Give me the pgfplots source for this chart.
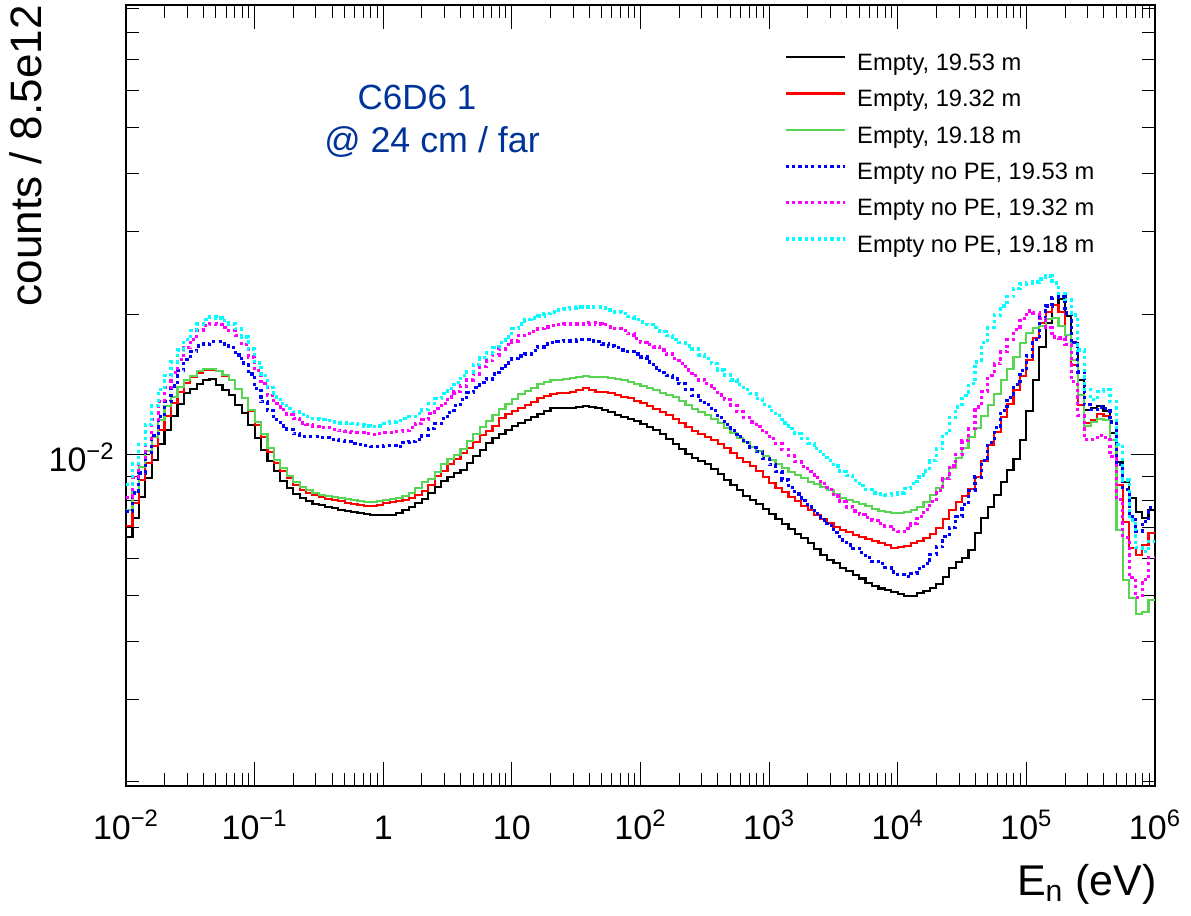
\documentclass[border=0pt]{standalone}
\usepackage{fontspec}
\setmainfont{Liberation Sans}
\usepackage{pgfplots}
\usepackage{pgfplotstable}
\pgfplotsset{compat=1.18}
\definecolor{rgreen}{RGB}{89,212,84}
\definecolor{rblue}{RGB}{0,0,255}
\definecolor{rred}{RGB}{255,0,0}
\definecolor{rmagenta}{RGB}{255,0,255}
\definecolor{rcyan}{RGB}{0,255,255}
\definecolor{tblue}{RGB}{0,51,153}
\pgfplotstableread{
lx k r g b m c
-2.00 0.668e-2 0.706e-2 0.763e-2 0.756e-2 0.810e-2 0.863e-2
-1.95 0.734e-2 0.790e-2 0.834e-2 0.829e-2 0.893e-2 0.957e-2
-1.90 0.813e-2 0.884e-2 0.943e-2 0.915e-2 0.986e-2 1.051e-2
-1.85 0.893e-2 0.962e-2 1.020e-2 1.010e-2 1.082e-2 1.159e-2
-1.80 0.976e-2 1.046e-2 1.093e-2 1.099e-2 1.188e-2 1.273e-2
-1.75 1.056e-2 1.131e-2 1.188e-2 1.206e-2 1.298e-2 1.377e-2
-1.70 1.131e-2 1.212e-2 1.273e-2 1.298e-2 1.391e-2 1.475e-2
-1.65 1.212e-2 1.292e-2 1.330e-2 1.404e-2 1.497e-2 1.580e-2
-1.60 1.285e-2 1.364e-2 1.398e-2 1.512e-2 1.596e-2 1.676e-2
-1.55 1.357e-2 1.425e-2 1.446e-2 1.596e-2 1.693e-2 1.761e-2
-1.50 1.384e-2 1.468e-2 1.475e-2 1.660e-2 1.761e-2 1.841e-2
-1.45 1.418e-2 1.497e-2 1.512e-2 1.709e-2 1.841e-2 1.905e-2
-1.40 1.446e-2 1.519e-2 1.527e-2 1.726e-2 1.887e-2 1.943e-2
-1.35 1.453e-2 1.519e-2 1.527e-2 1.744e-2 1.905e-2 1.972e-2
-1.30 1.411e-2 1.512e-2 1.512e-2 1.744e-2 1.896e-2 1.962e-2
-1.25 1.377e-2 1.475e-2 1.482e-2 1.726e-2 1.868e-2 1.934e-2
-1.20 1.343e-2 1.446e-2 1.446e-2 1.693e-2 1.841e-2 1.905e-2
-1.15 1.279e-2 1.384e-2 1.384e-2 1.635e-2 1.796e-2 1.859e-2
-1.10 1.230e-2 1.324e-2 1.324e-2 1.572e-2 1.718e-2 1.787e-2
-1.05 1.159e-2 1.242e-2 1.248e-2 1.489e-2 1.619e-2 1.684e-2
-1.00 1.088e-2 1.159e-2 1.176e-2 1.384e-2 1.512e-2 1.572e-2
-0.95 1.025e-2 1.093e-2 1.109e-2 1.298e-2 1.418e-2 1.475e-2
-0.90 0.971e-2 1.015e-2 1.035e-2 1.242e-2 1.337e-2 1.391e-2
-0.85 0.924e-2 0.962e-2 0.976e-2 1.188e-2 1.285e-2 1.330e-2
-0.80 0.880e-2 0.924e-2 0.938e-2 1.153e-2 1.248e-2 1.285e-2
-0.75 0.850e-2 0.893e-2 0.902e-2 1.131e-2 1.218e-2 1.254e-2
-0.70 0.825e-2 0.863e-2 0.876e-2 1.109e-2 1.194e-2 1.236e-2
-0.65 0.810e-2 0.842e-2 0.855e-2 1.093e-2 1.170e-2 1.218e-2
-0.60 0.798e-2 0.829e-2 0.842e-2 1.093e-2 1.159e-2 1.206e-2
-0.55 0.786e-2 0.821e-2 0.829e-2 1.093e-2 1.148e-2 1.194e-2
-0.50 0.782e-2 0.813e-2 0.821e-2 1.088e-2 1.142e-2 1.188e-2
-0.45 0.774e-2 0.806e-2 0.817e-2 1.088e-2 1.142e-2 1.182e-2
-0.40 0.771e-2 0.802e-2 0.813e-2 1.077e-2 1.131e-2 1.176e-2
-0.35 0.763e-2 0.798e-2 0.810e-2 1.072e-2 1.126e-2 1.170e-2
-0.30 0.759e-2 0.790e-2 0.806e-2 1.066e-2 1.120e-2 1.170e-2
-0.25 0.756e-2 0.786e-2 0.802e-2 1.056e-2 1.115e-2 1.165e-2
-0.20 0.752e-2 0.782e-2 0.798e-2 1.051e-2 1.115e-2 1.159e-2
-0.15 0.749e-2 0.778e-2 0.794e-2 1.046e-2 1.109e-2 1.153e-2
-0.10 0.745e-2 0.778e-2 0.794e-2 1.040e-2 1.104e-2 1.148e-2
-0.05 0.745e-2 0.782e-2 0.798e-2 1.040e-2 1.109e-2 1.153e-2
0.00 0.745e-2 0.790e-2 0.802e-2 1.046e-2 1.115e-2 1.165e-2
0.05 0.745e-2 0.794e-2 0.806e-2 1.046e-2 1.115e-2 1.176e-2
0.10 0.752e-2 0.798e-2 0.810e-2 1.040e-2 1.120e-2 1.182e-2
0.15 0.763e-2 0.802e-2 0.817e-2 1.061e-2 1.126e-2 1.194e-2
0.20 0.774e-2 0.810e-2 0.829e-2 1.066e-2 1.142e-2 1.206e-2
0.25 0.790e-2 0.821e-2 0.850e-2 1.077e-2 1.165e-2 1.224e-2
0.30 0.806e-2 0.838e-2 0.876e-2 1.099e-2 1.188e-2 1.248e-2
0.35 0.829e-2 0.863e-2 0.889e-2 1.137e-2 1.224e-2 1.285e-2
0.40 0.855e-2 0.902e-2 0.920e-2 1.165e-2 1.254e-2 1.317e-2
0.45 0.880e-2 0.924e-2 0.957e-2 1.194e-2 1.285e-2 1.350e-2
0.50 0.897e-2 0.957e-2 0.981e-2 1.230e-2 1.330e-2 1.384e-2
0.55 0.915e-2 0.981e-2 1.000e-2 1.273e-2 1.364e-2 1.425e-2
0.60 0.929e-2 1.010e-2 1.030e-2 1.311e-2 1.404e-2 1.475e-2
0.65 0.962e-2 1.035e-2 1.072e-2 1.357e-2 1.446e-2 1.504e-2
0.70 0.995e-2 1.066e-2 1.109e-2 1.391e-2 1.489e-2 1.557e-2
0.75 1.025e-2 1.104e-2 1.148e-2 1.425e-2 1.542e-2 1.612e-2
0.80 1.061e-2 1.126e-2 1.182e-2 1.453e-2 1.588e-2 1.651e-2
0.85 1.088e-2 1.153e-2 1.218e-2 1.489e-2 1.635e-2 1.693e-2
0.90 1.109e-2 1.200e-2 1.254e-2 1.527e-2 1.684e-2 1.735e-2
0.95 1.131e-2 1.224e-2 1.285e-2 1.572e-2 1.718e-2 1.787e-2
1.00 1.153e-2 1.242e-2 1.317e-2 1.604e-2 1.752e-2 1.859e-2
1.05 1.170e-2 1.260e-2 1.350e-2 1.627e-2 1.796e-2 1.905e-2
1.10 1.188e-2 1.279e-2 1.370e-2 1.643e-2 1.814e-2 1.943e-2
1.15 1.206e-2 1.298e-2 1.391e-2 1.668e-2 1.832e-2 1.962e-2
1.20 1.224e-2 1.324e-2 1.418e-2 1.701e-2 1.859e-2 1.981e-2
1.25 1.242e-2 1.337e-2 1.432e-2 1.726e-2 1.877e-2 2.001e-2
1.30 1.260e-2 1.350e-2 1.446e-2 1.735e-2 1.887e-2 2.020e-2
1.35 1.260e-2 1.357e-2 1.446e-2 1.744e-2 1.896e-2 2.040e-2
1.40 1.260e-2 1.357e-2 1.453e-2 1.752e-2 1.905e-2 2.050e-2
1.45 1.260e-2 1.364e-2 1.460e-2 1.752e-2 1.905e-2 2.060e-2
1.50 1.266e-2 1.377e-2 1.468e-2 1.761e-2 1.905e-2 2.071e-2
1.55 1.273e-2 1.391e-2 1.475e-2 1.761e-2 1.905e-2 2.071e-2
1.60 1.266e-2 1.377e-2 1.468e-2 1.752e-2 1.915e-2 2.071e-2
1.65 1.260e-2 1.364e-2 1.468e-2 1.744e-2 1.905e-2 2.071e-2
1.70 1.248e-2 1.364e-2 1.468e-2 1.726e-2 1.896e-2 2.060e-2
1.75 1.236e-2 1.357e-2 1.460e-2 1.709e-2 1.877e-2 2.040e-2
1.80 1.218e-2 1.343e-2 1.453e-2 1.693e-2 1.859e-2 2.020e-2
1.85 1.206e-2 1.330e-2 1.446e-2 1.676e-2 1.841e-2 2.001e-2
1.90 1.194e-2 1.324e-2 1.432e-2 1.660e-2 1.814e-2 1.972e-2
1.95 1.182e-2 1.305e-2 1.418e-2 1.643e-2 1.770e-2 1.943e-2
2.00 1.165e-2 1.292e-2 1.404e-2 1.619e-2 1.735e-2 1.924e-2
2.05 1.148e-2 1.273e-2 1.391e-2 1.580e-2 1.718e-2 1.896e-2
2.10 1.131e-2 1.254e-2 1.377e-2 1.534e-2 1.701e-2 1.868e-2
2.15 1.109e-2 1.236e-2 1.357e-2 1.497e-2 1.676e-2 1.832e-2
2.20 1.082e-2 1.218e-2 1.343e-2 1.475e-2 1.643e-2 1.796e-2
2.25 1.056e-2 1.194e-2 1.330e-2 1.453e-2 1.604e-2 1.761e-2
2.30 1.030e-2 1.170e-2 1.305e-2 1.418e-2 1.565e-2 1.735e-2
2.35 1.005e-2 1.148e-2 1.279e-2 1.377e-2 1.519e-2 1.709e-2
2.40 0.986e-2 1.126e-2 1.254e-2 1.337e-2 1.475e-2 1.684e-2
2.45 0.971e-2 1.109e-2 1.236e-2 1.305e-2 1.446e-2 1.635e-2
2.50 0.957e-2 1.093e-2 1.218e-2 1.279e-2 1.418e-2 1.604e-2
2.55 0.934e-2 1.077e-2 1.194e-2 1.242e-2 1.384e-2 1.565e-2
2.60 0.911e-2 1.056e-2 1.170e-2 1.200e-2 1.343e-2 1.519e-2
2.65 0.884e-2 1.035e-2 1.142e-2 1.159e-2 1.311e-2 1.482e-2
2.70 0.863e-2 1.010e-2 1.115e-2 1.126e-2 1.273e-2 1.446e-2
2.75 0.842e-2 0.986e-2 1.088e-2 1.093e-2 1.236e-2 1.411e-2
2.80 0.817e-2 0.966e-2 1.066e-2 1.061e-2 1.200e-2 1.377e-2
2.85 0.802e-2 0.947e-2 1.040e-2 1.035e-2 1.176e-2 1.350e-2
2.90 0.786e-2 0.924e-2 1.020e-2 1.015e-2 1.148e-2 1.317e-2
2.95 0.767e-2 0.897e-2 0.995e-2 0.981e-2 1.115e-2 1.279e-2
3.00 0.749e-2 0.871e-2 0.976e-2 0.952e-2 1.082e-2 1.242e-2
3.05 0.730e-2 0.850e-2 0.957e-2 0.920e-2 1.056e-2 1.212e-2
3.10 0.712e-2 0.834e-2 0.938e-2 0.884e-2 1.025e-2 1.170e-2
3.15 0.695e-2 0.813e-2 0.920e-2 0.850e-2 0.995e-2 1.137e-2
3.20 0.678e-2 0.798e-2 0.906e-2 0.825e-2 0.966e-2 1.109e-2
3.25 0.665e-2 0.778e-2 0.893e-2 0.798e-2 0.943e-2 1.082e-2
3.30 0.648e-2 0.763e-2 0.876e-2 0.774e-2 0.920e-2 1.056e-2
3.35 0.630e-2 0.745e-2 0.867e-2 0.749e-2 0.893e-2 1.030e-2
3.40 0.612e-2 0.730e-2 0.855e-2 0.726e-2 0.867e-2 1.000e-2
3.45 0.597e-2 0.716e-2 0.842e-2 0.706e-2 0.842e-2 0.971e-2
3.50 0.588e-2 0.702e-2 0.825e-2 0.682e-2 0.817e-2 0.947e-2
3.55 0.574e-2 0.692e-2 0.810e-2 0.658e-2 0.794e-2 0.920e-2
3.60 0.565e-2 0.685e-2 0.802e-2 0.642e-2 0.774e-2 0.902e-2
3.65 0.554e-2 0.675e-2 0.794e-2 0.630e-2 0.759e-2 0.880e-2
3.70 0.544e-2 0.668e-2 0.786e-2 0.618e-2 0.745e-2 0.859e-2
3.75 0.533e-2 0.661e-2 0.778e-2 0.603e-2 0.734e-2 0.842e-2
3.80 0.525e-2 0.655e-2 0.767e-2 0.591e-2 0.723e-2 0.829e-2
3.85 0.518e-2 0.648e-2 0.759e-2 0.585e-2 0.712e-2 0.825e-2
3.90 0.515e-2 0.642e-2 0.756e-2 0.574e-2 0.702e-2 0.821e-2
3.95 0.510e-2 0.633e-2 0.752e-2 0.562e-2 0.692e-2 0.825e-2
4.00 0.505e-2 0.636e-2 0.752e-2 0.554e-2 0.685e-2 0.829e-2
4.05 0.500e-2 0.639e-2 0.756e-2 0.549e-2 0.695e-2 0.846e-2
4.10 0.500e-2 0.648e-2 0.763e-2 0.557e-2 0.712e-2 0.867e-2
4.15 0.507e-2 0.655e-2 0.774e-2 0.571e-2 0.737e-2 0.897e-2
4.20 0.512e-2 0.665e-2 0.794e-2 0.585e-2 0.763e-2 0.924e-2
4.25 0.520e-2 0.678e-2 0.821e-2 0.612e-2 0.794e-2 0.971e-2
4.30 0.530e-2 0.699e-2 0.850e-2 0.636e-2 0.838e-2 1.030e-2
4.35 0.549e-2 0.730e-2 0.889e-2 0.668e-2 0.889e-2 1.109e-2
4.40 0.574e-2 0.763e-2 0.938e-2 0.699e-2 0.947e-2 1.200e-2
4.45 0.591e-2 0.794e-2 0.986e-2 0.737e-2 1.000e-2 1.266e-2
4.50 0.603e-2 0.817e-2 1.035e-2 0.782e-2 1.072e-2 1.337e-2
4.55 0.627e-2 0.846e-2 1.093e-2 0.838e-2 1.137e-2 1.418e-2
4.60 0.682e-2 0.897e-2 1.142e-2 0.897e-2 1.266e-2 1.580e-2
4.65 0.734e-2 0.971e-2 1.212e-2 0.971e-2 1.364e-2 1.735e-2
4.70 0.774e-2 1.051e-2 1.279e-2 1.061e-2 1.475e-2 1.868e-2
4.75 0.821e-2 1.120e-2 1.350e-2 1.142e-2 1.565e-2 1.991e-2
4.80 0.876e-2 1.206e-2 1.446e-2 1.242e-2 1.660e-2 2.081e-2
4.85 0.929e-2 1.285e-2 1.527e-2 1.324e-2 1.761e-2 2.176e-2
4.90 0.981e-2 1.377e-2 1.619e-2 1.411e-2 1.850e-2 2.263e-2
4.95 1.077e-2 1.475e-2 1.735e-2 1.512e-2 1.953e-2 2.319e-2
5.00 1.242e-2 1.596e-2 1.823e-2 1.627e-2 2.030e-2 2.330e-2
5.05 1.446e-2 1.778e-2 1.868e-2 1.761e-2 2.010e-2 2.342e-2
5.10 1.701e-2 1.915e-2 1.887e-2 1.962e-2 1.953e-2 2.377e-2
5.15 1.915e-2 2.020e-2 1.953e-2 2.081e-2 1.868e-2 2.412e-2
5.20 2.091e-2 2.091e-2 1.962e-2 2.165e-2 1.787e-2 2.330e-2
5.25 2.154e-2 2.020e-2 1.887e-2 2.176e-2 1.778e-2 2.208e-2
5.30 1.981e-2 1.805e-2 1.805e-2 2.010e-2 1.718e-2 2.144e-2
5.35 1.735e-2 1.557e-2 1.596e-2 1.735e-2 1.432e-2 1.991e-2
5.40 1.446e-2 1.279e-2 1.343e-2 1.504e-2 1.212e-2 1.676e-2
5.45 1.248e-2 1.170e-2 1.153e-2 1.279e-2 1.077e-2 1.377e-2
5.50 1.260e-2 1.188e-2 1.176e-2 1.248e-2 1.077e-2 1.311e-2
5.55 1.273e-2 1.224e-2 1.194e-2 1.266e-2 1.099e-2 1.364e-2
5.60 1.242e-2 1.212e-2 1.188e-2 1.254e-2 1.088e-2 1.377e-2
5.65 1.115e-2 1.077e-2 1.077e-2 1.176e-2 0.990e-2 1.298e-2
5.70 0.966e-2 0.863e-2 0.692e-2 0.952e-2 0.802e-2 1.051e-2
5.75 0.876e-2 0.719e-2 0.541e-2 0.842e-2 0.665e-2 0.884e-2
5.80 0.810e-2 0.633e-2 0.495e-2 0.737e-2 0.546e-2 0.726e-2
5.85 0.756e-2 0.612e-2 0.457e-2 0.685e-2 0.495e-2 0.633e-2
5.90 0.734e-2 0.642e-2 0.462e-2 0.719e-2 0.541e-2 0.621e-2
5.95 0.763e-2 0.682e-2 0.490e-2 0.771e-2 0.603e-2 0.652e-2
6.00 0.763e-2 0.682e-2 0.490e-2 0.771e-2 0.603e-2 0.652e-2
}\spectra

\newcommand{\tl}[1]{10\textsuperscript{#1}}

\begin{document}
\begin{tikzpicture}
\path[use as bounding box] (-63pt,-65pt) rectangle (532.5pt,393pt);
\begin{axis}[
  at={(0pt,0pt)}, anchor=south west,
  scale only axis, width=514.5pt, height=390.5pt,
  xmode=log, ymode=log,
  xmin=1e-2, xmax=1e6, ymin=1.96e-3, ymax=0.0915,
  axis line style={line width=0.6pt},
  tick align=inside,
  major tick length=12pt, minor tick length=6.5pt,
  every tick/.style={black, line width=0.5pt},
  xtick={1e-2,1e-1,1,10,100,1e3,1e4,1e5,1e6},
  xticklabels={\tl{−2},\tl{−1},1,10,\tl{2},\tl{3},\tl{4},\tl{5},\tl{6}},
  minor xtick={2e-2,3e-2,4e-2,5e-2,6e-2,7e-2,8e-2,9e-2,2e-1,3e-1,4e-1,5e-1,6e-1,7e-1,8e-1,9e-1,2,3,4,5,6,7,8,9,20,30,40,50,60,70,80,90,200,300,400,500,600,700,800,900,2e3,3e3,4e3,5e3,6e3,7e3,8e3,9e3,2e4,3e4,4e4,5e4,6e4,7e4,8e4,9e4,2e5,3e5,4e5,5e5,6e5,7e5,8e5,9e5},
  ytick={1e-2},
  yticklabels={\tl{−2}},
  minor ytick={2e-3,3e-3,4e-3,5e-3,6e-3,7e-3,8e-3,9e-3,2e-2,3e-2,4e-2,5e-2,6e-2,7e-2,8e-2,9e-2},
  xticklabel style={anchor=base, inner sep=0pt, yshift=-26.75pt, font=\fontsize{17}{20}\selectfont},
  yticklabel style={anchor=base east, inner sep=0pt, xshift=-5.5pt, yshift=-8.5pt, font=\fontsize{17}{20}\selectfont},
  xlabel={E\textsubscript{n} (eV)},
  xlabel style={at={(axis description cs:1.002,-0.140)}, anchor=base east, inner sep=0pt, font=\fontsize{21.5}{24}\selectfont},
  ylabel={counts / 8.5e12},
  ylabel style={at={(axis description cs:-0.0826,1)}, anchor=base east, inner sep=0pt, font=\fontsize{22}{24}\selectfont},
  legend style={at={(rel axis cs:0.6395,0.9385)}, anchor=north west, draw=none, fill=none,
    inner sep=0pt, outer sep=0pt, row sep=7.0pt,
    font=\fontsize{11.85}{14}\selectfont,
    nodes={inner sep=0pt, text height=8.6pt, text depth=2.6pt},
    /tikz/every odd column/.append style={column sep=5.5pt}},
  legend cell align=left,
  legend image code/.code={\draw[#1] (0pt,3.6pt) -- (29.5pt,3.6pt);},
]
\addplot[const plot mark left, black, line width=1.1pt] table[x expr={10^(\thisrow{lx})}, y=k]{\spectra};
\addlegendentry{Empty, 19.53 m}
\addplot[const plot mark left, rred, line width=1.1pt] table[x expr={10^(\thisrow{lx})}, y=r]{\spectra};
\addlegendentry{Empty, 19.32 m}
\addplot[const plot mark left, rgreen, line width=1.1pt] table[x expr={10^(\thisrow{lx})}, y=g]{\spectra};
\addlegendentry{Empty, 19.18 m}
\addplot[const plot mark left, rblue, line width=1.6pt, dash pattern=on 1.6pt off 1.6pt] table[x expr={10^(\thisrow{lx})}, y=b]{\spectra};
\addlegendentry{Empty no PE, 19.53 m}
\addplot[const plot mark left, rmagenta, line width=1.6pt, dash pattern=on 1.6pt off 1.6pt] table[x expr={10^(\thisrow{lx})}, y=m]{\spectra};
\addlegendentry{Empty no PE, 19.32 m}
\addplot[const plot mark left, rcyan, line width=1.6pt, dash pattern=on 1.6pt off 1.6pt] table[x expr={10^(\thisrow{lx})}, y=c]{\spectra};
\addlegendentry{Empty no PE, 19.18 m}
\node[anchor=base, text=tblue, inner sep=0pt, font=\fontsize{17.5}{20}\selectfont] at (rel axis cs:0.2828,0.8656) {C6D6 1};
\node[anchor=base, text=tblue, inner sep=0pt, font=\fontsize{17.9}{20}\selectfont] at (rel axis cs:0.2974,0.8118) {@ 24 cm / far};
\end{axis}
\end{tikzpicture}
\end{document}
